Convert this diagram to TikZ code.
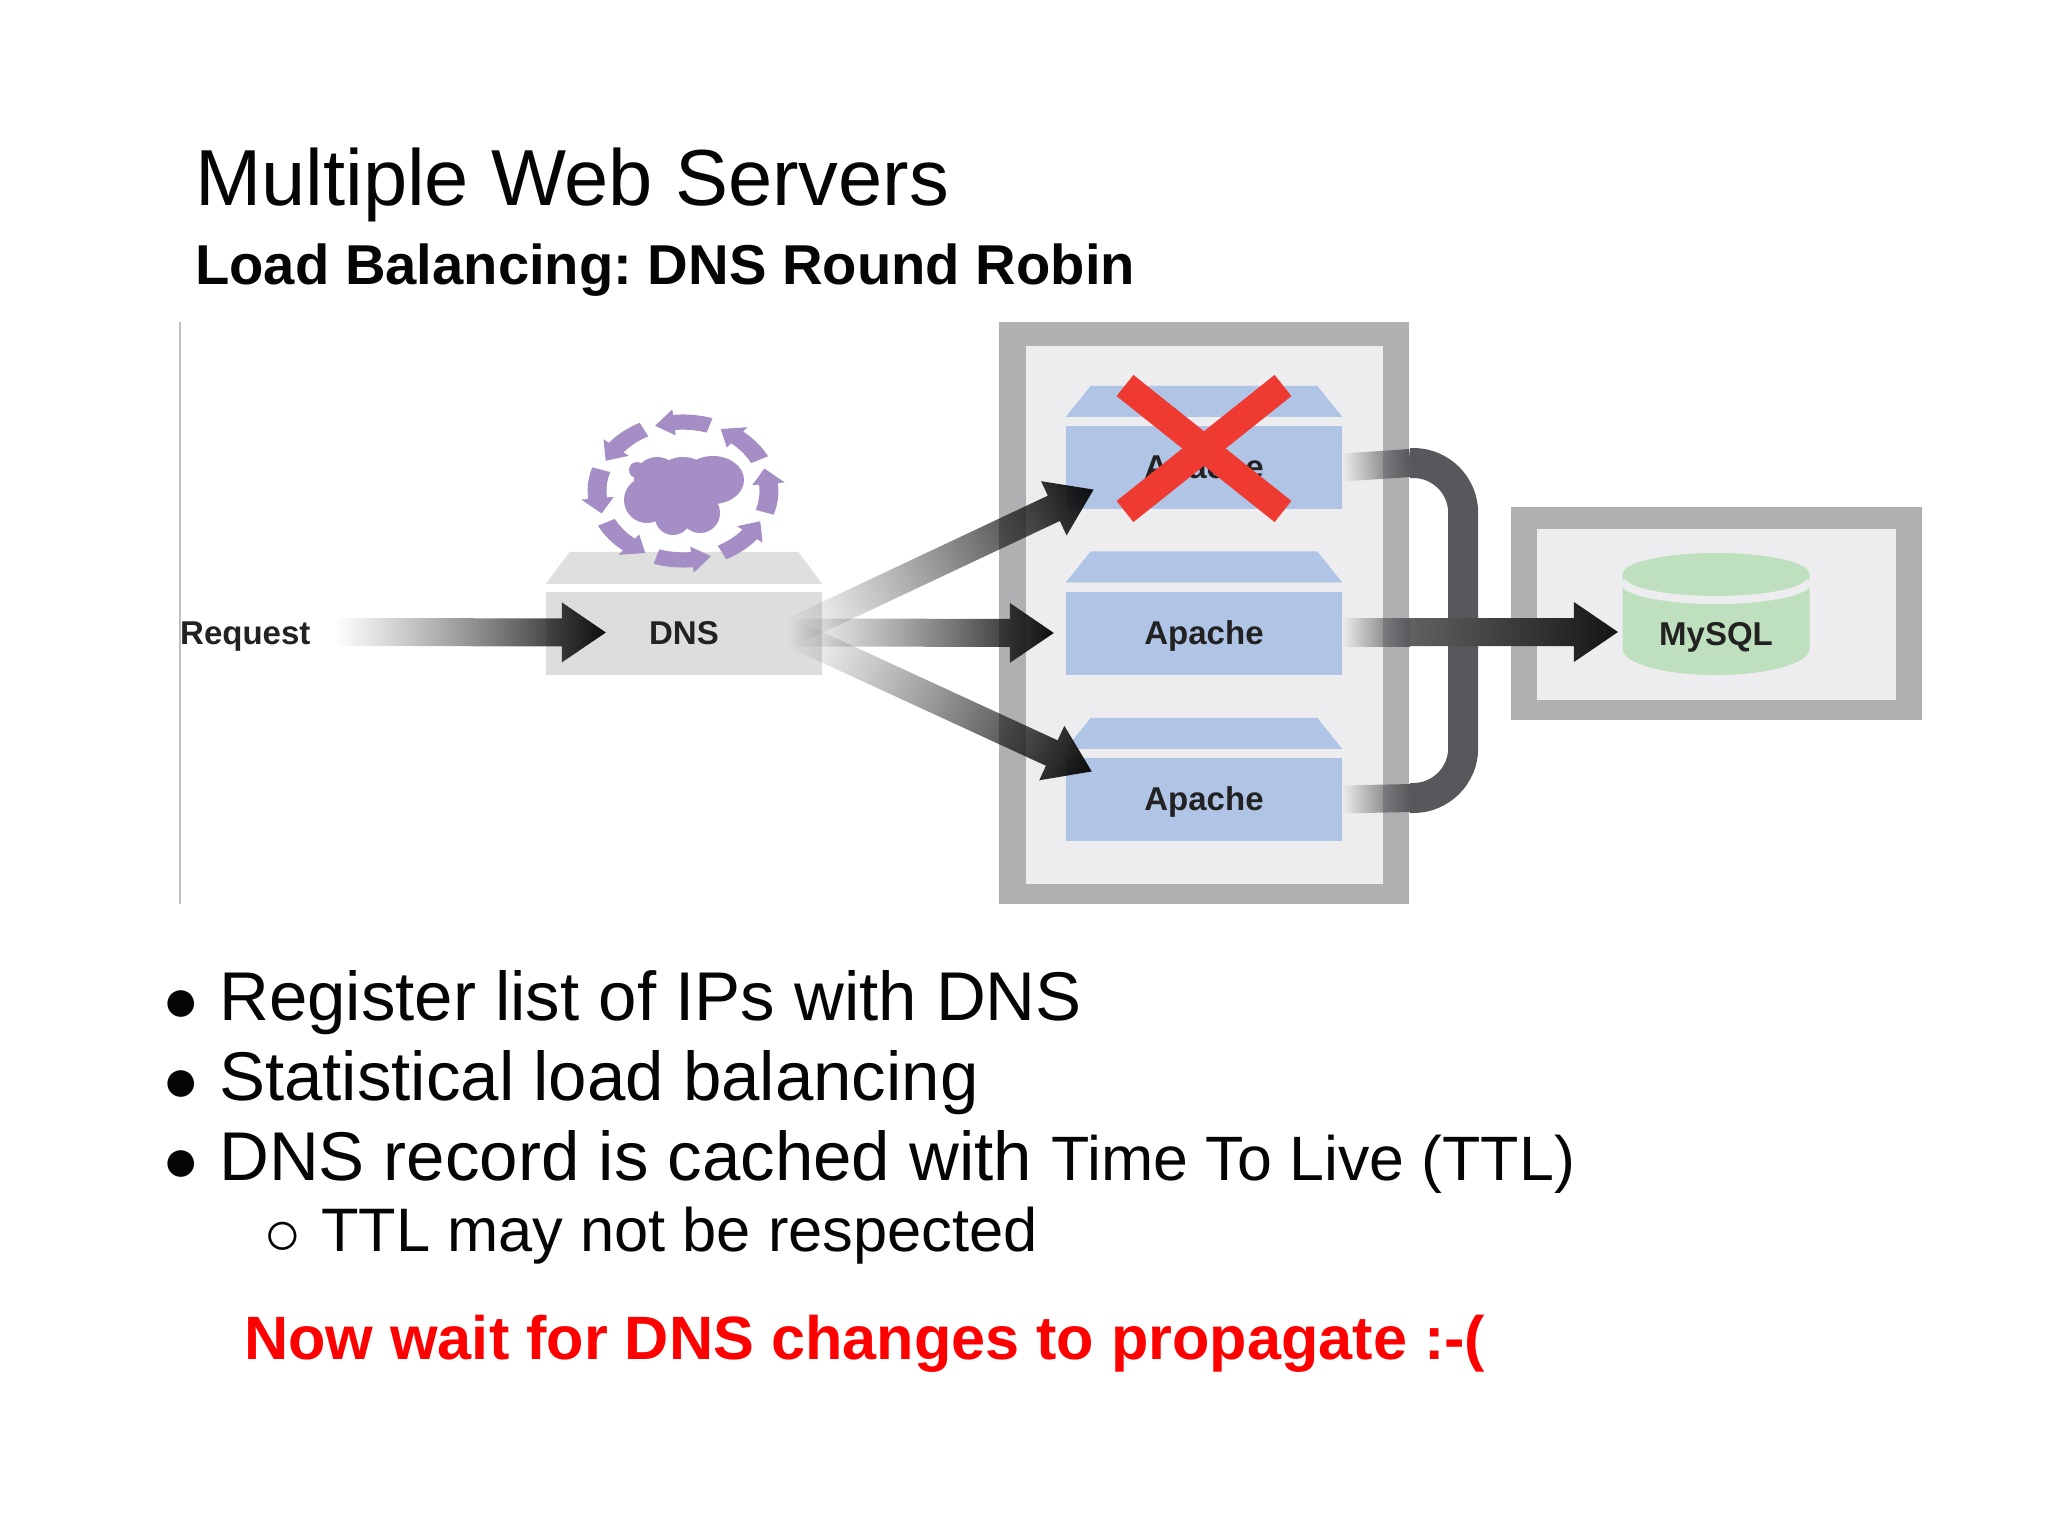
\documentclass[tikz,border=0pt]{standalone}
\usepackage{fontspec}
\setmainfont{Liberation Sans}
\usetikzlibrary{calc,fadings}
\frenchspacing

\definecolor{frameGray}{HTML}{B0B0B2}
\definecolor{innerGray}{HTML}{EDEDEF}
\definecolor{dnsGray}{HTML}{DDDDDD}
\definecolor{dnsRoof}{HTML}{DDE0DD}
\definecolor{apacheBlue}{HTML}{B0C5E6}
\definecolor{dbGreen}{HTML}{BFE0BF}
\definecolor{ringPurple}{HTML}{A58DC5}
\definecolor{busGray}{HTML}{58575B}
\definecolor{crossRed}{HTML}{EE3A31}
\definecolor{alertRed}{HTML}{FF0000}
\definecolor{labelDark}{HTML}{222222}
\definecolor{textDark}{HTML}{050505}

\tikzfading[name=flowfade, left color=transparent!100, middle color=transparent!22, right color=transparent!0]

\tikzset{
    tag/.style={inner sep=0pt, text height=22pt, text depth=0pt,
                font=\fontsize{33}{36}\selectfont\bfseries, text=labelDark},
    box/.style={tag, rectangle, minimum width=276pt, minimum height=83pt},
    label/.style={inner sep=0pt, anchor=base west, text=textDark},
    flow/.style={left color=black!75, right color=black!95, path fading=flowfade},
    solidflow/.style={left color=black!62, right color=black!92},
    stub/.style={left color=busGray, right color=busGray, path fading=flowfade},
}

% thick arrow, by default fading in from its tail
\newcommand{\flowangle}[2]{%
    \path let \p1=($(#2)-(#1)$) in \pgfextra{%
        \pgfmathparse{atan2(\y1,\x1)}\global\let\flowang\pgfmathresult
        \pgfmathparse{veclen(\x1,\y1)}\global\let\flowlen\pgfmathresult};
}
\newcommand{\flowarrow}[3][flow]{%
    \flowangle{#2}{#3}
    \begin{scope}[transform canvas={shift={(#2)},rotate=\flowang}]
        \shade[#1] (0pt,-14pt) -- ({\flowlen pt-44pt},-14pt) -- ({\flowlen pt-44pt},-30pt)
            -- ({\flowlen pt},0pt) -- ({\flowlen pt-44pt},30pt) -- ({\flowlen pt-44pt},14pt)
            -- (0pt,14pt) -- cycle;
    \end{scope}
}
\newcommand{\flowstub}[2]{%
    \flowangle{#1}{#2}
    \begin{scope}[transform canvas={shift={(#1)},rotate=\flowang}]
        \shade[stub] (0pt,-14pt) rectangle ({\flowlen pt},14pt);
    \end{scope}
}

\begin{document}
\begin{tikzpicture}[x=1pt, y=-1pt]
\useasboundingbox (0,0) rectangle (2048,1536);

% Headings
\node[label, font=\fontsize{79.5}{90}\selectfont] (title) at (195,205) {Multiple Web Servers};
\node[label, font=\fontsize{56.2}{64}\selectfont\bfseries] (subtitle) at (195,284) {Load Balancing: DNS Round Robin};

% Left rule of the figure
\draw[color=black!25, line width=1.5pt] (180,322) -- (180,904);

% Frames
\fill[frameGray] (999,322) rectangle (1409,904);
\fill[innerGray] (1026,346) rectangle (1383,884);
\fill[frameGray] (1511,507) rectangle (1922,720);
\fill[innerGray] (1537,529) rectangle (1896,700);

% DNS box
\node[box, fill=dnsGray] (dns) at (684,633.5) {DNS};
\fill[dnsRoof] ($(dns.north west)+(0,-8)$) -- ($(dns.north east)+(0,-8)$)
    -- ($(dns.north east)+(-24,-40)$) -- ($(dns.north west)+(24,-40)$) -- cycle;
\node[tag, anchor=west] (request) at (180,633) {Request};

% Cloud and its ring
\begin{scope}[shift={(683,491)}]
    \fill[ringPurple] (-26,-11) circle[radius=23pt] (-46,-21) circle[radius=8pt]
        (-36,9) circle[radius=23pt] (0,-1) circle[radius=33pt]
        (30,-11) ellipse[x radius=31pt, y radius=24pt] (-10,26) circle[radius=18pt]
        (17,22) circle[radius=20pt] (0,-20) circle[radius=8pt];
\end{scope}
\begin{scope}[shift={(683,491)}, x=86pt, y=69pt]
    \foreach \a in {27,72,...,342} {
        \fill[ringPurple] (\a:0.89) -- (\a+6:0.89) -- (\a+12:0.89) -- (\a+18:0.89) -- (\a+24:0.89)
            -- (\a+24:0.81) -- (\a+37:1) -- (\a+24:1.19) -- (\a+24:1.11) -- (\a+18:1.11)
            -- (\a+12:1.11) -- (\a+6:1.11) -- (\a:1.11) -- cycle;
    }
\end{scope}

% Web servers
\foreach \n/\y in {apacheA/467.5, apacheB/633, apacheC/799.5} {
    \node[box, fill=apacheBlue] (\n) at (1204,\y) {Apache};
    \fill[apacheBlue] ($(\n.north west)+(0,-9)$) -- ($(\n.north east)+(0,-9)$)
        -- ($(\n.north east)+(-25,-40)$) -- ($(\n.north west)+(25,-40)$) -- cycle;
}

% Database
\fill[dbGreen] (1622.5,574) -- (1622.5,649) arc[start angle=180, end angle=360, x radius=93.5pt, y radius=26pt]
    -- (1809.5,574) -- cycle;
\draw[innerGray, line width=8pt] (1622.5,580) arc[start angle=180, end angle=360, x radius=93.5pt, y radius=20pt];
\fill[dbGreen] (1716,574) ellipse[x radius=93.5pt, y radius=21pt];
\node[tag] (mysql) at (1716,634) {MySQL};

% Points the thick arrows run through
\coordinate (reqtail) at ($(request.east)+(24,-1)$);
\coordinate (reqtip) at ($(dns.west)+(60,-1)$);
\coordinate (dnstail) at ($(dns.east)+(-32,-1)$);
\coordinate (tipA) at ($(apacheA.west)+(28,22)$);
\coordinate (tipB) at ($(apacheB.west)+(-12,0)$);
\coordinate (tipC) at ($(apacheC.west)+(26,-28)$);
\coordinate (busA) at ($(apacheA.east)+(68,-4.5)$);
\coordinate (busB) at ($(apacheB.east)+(68,-1)$);
\coordinate (busC) at ($(apacheC.east)+(68,-1.5)$);
\coordinate (busTop) at ($(apacheA.east)+(121,-4.5)$);
\coordinate (busBot) at ($(apacheC.east)+(121,-1.5)$);
\coordinate (dbtail) at ($(apacheB.east)+(0,-1)$);
\coordinate (dbtip) at ($(mysql.west)+(-41,-2)$);

% Thick arrows
\flowarrow{reqtail}{reqtip}
\flowarrow{dnstail}{tipA}
\flowarrow{dnstail}{tipB}
\flowarrow{dnstail}{tipC}

% Bus to the database
\draw[busGray, line width=30pt, rounded corners=50pt] (busA) -- (busTop) -- (busBot) -- (busC);
\flowstub{apacheA.east}{busA}
\flowstub{apacheC.east}{busC}
\flowstub{dbtail}{busB}
\flowarrow[solidflow]{busB}{dbtip}

% Failed server
\draw[crossRed, line width=27pt] ($(apacheA.center)+(-79,-82)$) -- ($(apacheA.center)+(79,44)$);
\draw[crossRed, line width=27pt] ($(apacheA.center)+(79,-82)$) -- ($(apacheA.center)+(-79,44)$);

% Bullet list
\foreach \n/\y/\t in {itemA/1020.5/{Register list of IPs with DNS}, itemB/1100.5/{Statistical load balancing}} {
    \node[label, font=\fontsize{69}{78}\selectfont] (\n) at (219,\y) {\t};
    \node[label, font=\fontsize{62}{70}\selectfont] (\n dot) at (162,\y+1) {●};
}
\node[label, font=\fontsize{69}{78}\selectfont] (itemC) at (219,1180.5)
    {DNS record is cached with {\fontsize{62.7}{72}\selectfont Time To Live (TTL)}};
\node[label, font=\fontsize{62}{70}\selectfont] (itemC dot) at (162,1181.5) {●};
\node[label, font=\fontsize{61.4}{70}\selectfont] (subitem) at (321,1251.5) {TTL may not be respected};
\node[label, font=\fontsize{64}{72}\selectfont] (subitem dot) at (263,1255) {○};

% Closing remark
\node[label, text=alertRed, font=\fontsize{61.2}{70}\selectfont\bfseries] (remark) at (244,1359) {Now wait for DNS changes to propagate :-(};

\end{tikzpicture}
\end{document}
